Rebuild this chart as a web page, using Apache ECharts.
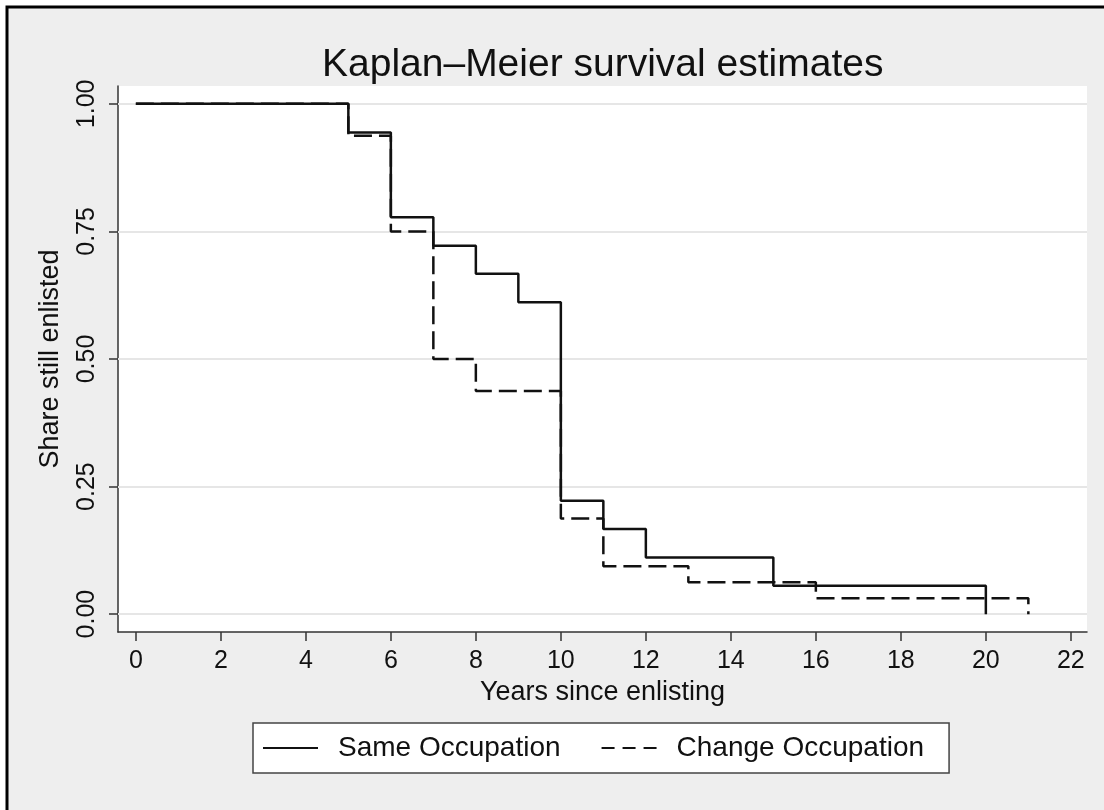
<!DOCTYPE html>
<html>
<head>
<meta charset="utf-8">
<script src="https://cdn.jsdelivr.net/npm/echarts@6/dist/echarts.min.js"></script>
<style>
  html, body { margin: 0; padding: 0; background: #fff; }
  #main { width: 1104px; height: 810px; }
</style>
</head>
<body>
<div id="main"></div>
<script>
// survival steps: [year, share]
var sameOcc = [[0, 1], [5, 0.944], [6, 0.778], [7, 0.722], [8, 0.667], [9, 0.611],
               [10, 0.222], [11, 0.167], [12, 0.111], [15, 0.0556], [20, 0.0556], [20, 0]];
var changeOcc = [[0, 1], [5, 0.9375], [6, 0.75], [7, 0.5], [8, 0.4375], [10, 0.1875],
                 [11, 0.09375], [13, 0.0625], [16, 0.03125], [21, 0.03125], [21, 0]];
var xTicks = [0, 2, 4, 6, 8, 10, 12, 14, 16, 18, 20, 22];
var yTicks = [0, 0.25, 0.5, 0.75, 1];

var font = 'Liberation Sans, Arial, Helvetica, sans-serif';
var myChart = echarts.init(document.getElementById('main'));

var option = {
    backgroundColor: '#fff',
    animation: false,
    // 外框 + 灰色底
    graphic: [{
        type: 'rect',
        z: -10,
        shape: { x: 7, y: 7, width: 1120, height: 830 },
        style: { fill: '#eeeeee', stroke: '#000', lineWidth: 3 }
    }],
    title: {
        text: 'Kaplan–Meier survival estimates',
        left: 322,
        top: 46,
        padding: 0,
        textStyle: { fontFamily: font, fontSize: 39, fontWeight: 'normal', color: '#111' }
    },
    legend: {
        left: 253,
        top: 723,
        orient: 'horizontal',
        padding: [11, 25, 11, 9],
        itemWidth: 55,
        itemHeight: 14,
        itemGap: 40,
        backgroundColor: '#fff',
        borderColor: '#444',
        borderWidth: 1.5,
        borderRadius: 0,
        itemStyle: { color: 'rgba(0,0,0,0)', borderWidth: 0 },
        lineStyle: { type: [13, 8] },
        textStyle: { fontFamily: font, fontSize: 28, color: '#111', padding: [0, 0, 0, 15] },
        data: [
            { name: 'Same Occupation', lineStyle: { type: 'solid' } },
            { name: 'Change Occupation', lineStyle: { type: [13, 8] } }
        ]
    },
    grid: {
        left: 118,
        right: 17,
        top: 86,
        bottom: 178,
        show: true,
        backgroundColor: '#fff',
        borderWidth: 0
    },
    xAxis: {
        type: 'value',
        min: -0.42,
        max: 22.38,
        name: 'Years since enlisting',
        nameLocation: 'middle',
        nameGap: 44,
        nameTextStyle: { fontFamily: font, fontSize: 27, color: '#111' },
        axisLine: { show: true, onZero: false, lineStyle: { color: '#333', width: 1.5 } },
        axisTick: { show: true, length: 9, customValues: xTicks, lineStyle: { color: '#333', width: 1.5 } },
        axisLabel: { customValues: xTicks, margin: 17, fontFamily: font, fontSize: 25, color: '#111' },
        splitLine: { show: false }
    },
    yAxis: {
        type: 'value',
        min: -0.035,
        max: 1.035,
        name: 'Share still enlisted',
        nameLocation: 'middle',
        nameGap: 54,
        nameTextStyle: { fontFamily: font, fontSize: 27, color: '#111' },
        axisLine: { show: true, onZero: false, lineStyle: { color: '#333', width: 1.5 } },
        axisTick: { show: true, length: 9, customValues: yTicks, lineStyle: { color: '#333', width: 1.5 } },
        axisLabel: {
            customValues: yTicks,
            rotate: 90,
            margin: 18,
            fontFamily: font,
            fontSize: 25,
            color: '#111',
            formatter: function (v) { return v.toFixed(2); }
        },
        splitLine: { show: false }
    },
    series: [
        {
            // 网格线
            name: 'grid',
            type: 'line',
            data: [],
            z: 1,
            silent: true,
            markLine: {
                z: 1,
                silent: true,
                symbol: 'none',
                label: { show: false },
                lineStyle: { color: '#e6e6e6', width: 2, type: 'solid' },
                data: yTicks.map(function (v) { return { yAxis: v }; })
            }
        },
        {
            name: 'Same Occupation',
            type: 'line',
            step: 'end',
            symbol: 'none',
            z: 4,
            data: sameOcc,
            itemStyle: { color: '#111' },
            lineStyle: { color: '#111', width: 2.5, type: 'solid' }
        },
        {
            name: 'Change Occupation',
            type: 'line',
            step: 'end',
            symbol: 'none',
            z: 3,
            data: changeOcc,
            itemStyle: { color: '#111' },
            lineStyle: { color: '#111', width: 2.5, type: [18, 7] }
        }
    ]
};

myChart.setOption(option);
window.onresize = myChart.resize;
</script>
</body>
</html>
